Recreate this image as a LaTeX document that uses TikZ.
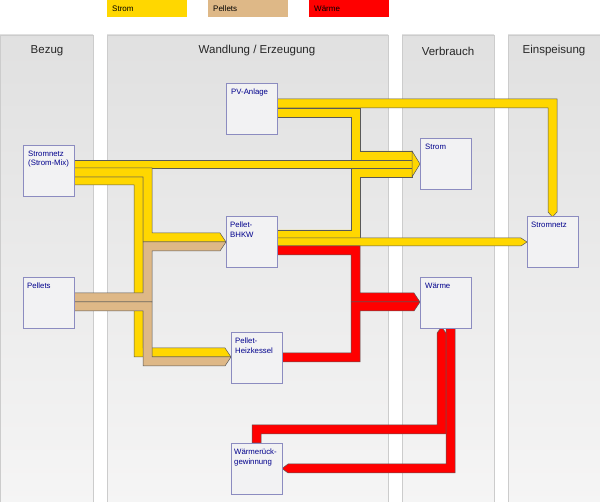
\documentclass[tikz,border=0pt]{standalone}
\usepackage{fontspec}
\setmainfont{Liberation Sans}
\definecolor{gold}{HTML}{FFD700}
\definecolor{tan}{HTML}{DEB887}
\begin{document}
\begin{tikzpicture}[x=1pt,y=-1pt,
  col/.style={draw=black!20,line width=0.6,top color=black!12,bottom color=red!2!black!4},
  box/.style={draw=blue!45!black!45!white,line width=0.8,fill=blue!3!black!5,minimum width=51pt,minimum height=51pt,anchor=north west,inner sep=0pt},
  lbl/.style={anchor=north west,font=\fontsize{7.8}{9.2}\selectfont,text=blue!55!black,align=left,inner sep=0pt},
  hdr/.style={font=\fontsize{11.5}{13}\selectfont,text=black!85},
  ys/.style={fill=gold,draw=black!65,line width=0.5},
  ts/.style={fill=tan,draw=black!65,line width=0.5},
  rs/.style={fill=red,draw=black!65,line width=0.5},
  leg/.style={anchor=west,font=\fontsize{8}{9}\selectfont,inner sep=0pt}]
\useasboundingbox (0,0) rectangle (600,502);
\fill[white] (0,0) rectangle (600,502);
% legend
\fill[gold] (107,0) rectangle (187,17);
\node[leg] (lstrom) at (112,8.5) {Strom};
\fill[tan] (208,0) rectangle (288,17);
\node[leg] (lpel) at (213,8.5) {Pellets};
\fill[red] (309,0) rectangle (389,17);
\node[leg] (lwae) at (314,8.5) {Wärme};
% columns
\fill[col] (0,35) rectangle (93,502);
\fill[col] (107,35) rectangle (388,502);
\fill[col] (402,35) rectangle (494,502);
\fill[col] (508,35) rectangle (600,502);
\node[hdr] (h1) at (47,51) {Bezug};
\node[hdr] (h2) at (257,51) {Wandlung / Erzeugung};
\node[hdr] (h3) at (448,51) {Verbrauch};
\node[hdr] (h4) at (554,51) {Einspeisung};
% yellow flows
\filldraw[ys] (277,99)--(557,99)--(557,212)--(552.5,217)--(548,212)--(548,108)--(277,108)--cycle;
\filldraw[ys] (277,108)--(360,108)--(360,151)--(412,151)--(412,160)--(351,160)--(351,117)--(277,117)--cycle;
\filldraw[ys] (74,160)--(412,160)--(412,168)--(74,168)--cycle;
\filldraw[ys] (277,230)--(351,230)--(351,168)--(412,168)--(412,177)--(360,177)--(360,238)--(277,238)--cycle;
\filldraw[ys] (412,151)--(420,164)--(412,177)--cycle;
\filldraw[ys] (277,238)--(521,238)--(527,242)--(521,246)--(277,246)--cycle;
\filldraw[ys] (74,177)--(143,177)--(143,348)--(225,348)--(231,357)--(134,357)--(134,185)--(74,185)--cycle;
\filldraw[ys] (74,168)--(152,168)--(152,233)--(220,233)--(226,242)--(143,242)--(143,177)--(74,177)--cycle;
% tan flows
\filldraw[ts] (74,293)--(143,293)--(143,242)--(226,242)--(220,251)--(152,251)--(152,302)--(74,302)--cycle;
\filldraw[ts] (74,302)--(152,302)--(152,357)--(231,357)--(225,366)--(143,366)--(143,311)--(74,311)--cycle;
% red flows
\filldraw[rs] (277,246)--(360,246)--(360,293)--(414,293)--(420,302)--(351,302)--(351,255)--(277,255)--cycle;
\filldraw[rs] (282,353)--(351,353)--(351,302)--(420,302)--(414,311)--(360,311)--(360,362)--(282,362)--cycle;
\filldraw[rs] (252,443)--(252,425)--(437,425)--(437,333)--(441.5,327)--(446,333)--(446,434)--(261,434)--(261,443)--cycle;
\filldraw[rs] (446,327)--(455,327)--(455,473)--(288,473)--(282,468.5)--(288,464)--(446,464)--cycle;
% nodes
\node[box] (mix) at (23,145) {};
\node[lbl] at ([shift={(5,6)}]mix.north west) {Stromnetz\\(Strom-Mix)};
\node[box] (pel) at (23,277) {};
\node[lbl] at ([shift={(4,6)}]pel.north west) {Pellets};
\node[box] (pv) at (226,83) {};
\node[lbl] at ([shift={(5,6)}]pv.north west) {PV-Anlage};
\node[box] (bhkw) at (226,216) {};
\node[lbl] at ([shift={(4,6)}]bhkw.north west) {Pellet-\\BHKW};
\node[box] (hk) at (231,332) {};
\node[lbl] at ([shift={(4,6)}]hk.north west) {Pellet-\\Heizkessel};
\node[box] (wr) at (231,443) {};
\node[lbl] at ([shift={(3,6)}]wr.north west) {Wärmerück-\\gewinnung};
\node[box] (strom) at (420,138) {};
\node[lbl] at ([shift={(5,6)}]strom.north west) {Strom};
\node[box] (wae) at (420,277) {};
\node[lbl] at ([shift={(5,6)}]wae.north west) {Wärme};
\node[box] (snr) at (527,216) {};
\node[lbl] at ([shift={(4,6)}]snr.north west) {Stromnetz};
\end{tikzpicture}
\end{document}
